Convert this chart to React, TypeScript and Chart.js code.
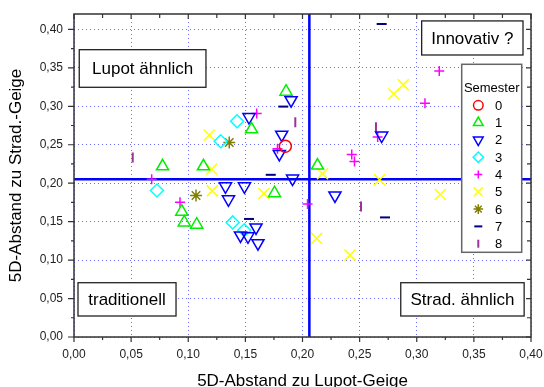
import React, { useEffect, useRef } from 'react';
import { Chart, registerables } from 'chart.js';
import { drawPoint } from 'chart.js/helpers';

Chart.register(...registerables);

// ---------- data ----------
const semesterLabels = ['0', '1', '2', '3', '4', '5', '6', '7', '8'];

const sem0: number[][] = [[0.185, 0.248]];
const sem1: number[][] = [
  [0.0775, 0.222], [0.1133, 0.222], [0.0943, 0.163], [0.0965, 0.149], [0.1074, 0.146],
  [0.1554, 0.270], [0.1856, 0.319], [0.1755, 0.187], [0.2131, 0.223],
];
const sem2: number[][] = [
  [0.1326, 0.196], [0.1352, 0.179], [0.1492, 0.196], [0.1532, 0.286], [0.190, 0.308],
  [0.1818, 0.263], [0.1797, 0.238], [0.1913, 0.206], [0.2284, 0.184], [0.2693, 0.262],
  [0.1457, 0.132], [0.1523, 0.131], [0.1593, 0.1425], [0.161, 0.122],
];
const sem3: number[][] = [
  [0.0726, 0.1905], [0.1284, 0.2545], [0.1427, 0.2805], [0.1389, 0.149], [0.149, 0.1388],
];
const sem4: number[][] = [
  [0.068, 0.205], [0.0928, 0.1753], [0.1599, 0.2905], [0.1781, 0.2447], [0.2431, 0.2373],
  [0.2455, 0.2282], [0.2658, 0.260], [0.3072, 0.304], [0.3197, 0.346], [0.2044, 0.173],
];
const sem5: number[][] = [
  [0.1184, 0.2626], [0.1205, 0.2184], [0.121, 0.190], [0.1663, 0.1866], [0.2175, 0.2122],
  [0.2674, 0.2044], [0.2799, 0.316], [0.2882, 0.328], [0.3206, 0.1853], [0.2124, 0.1282],
  [0.2416, 0.1065],
];
const sem6: number[][] = [[0.1068, 0.184], [0.1359, 0.253]];
const sem7: number[][] = [
  [0.2693, 0.407], [0.1832, 0.2996], [0.1722, 0.2109], [0.1532, 0.1535], [0.2722, 0.1555],
];
const sem8: number[][] = [
  [0.0514, 0.2334], [0.1937, 0.2792], [0.2643, 0.2727], [0.2512, 0.1697],
];

const seriesData = [sem0, sem1, sem2, sem3, sem4, sem5, sem6, sem7, sem8];

const xTicks = [0, 0.05, 0.1, 0.15, 0.2, 0.25, 0.3, 0.35, 0.4];
const yTicks = [0, 0.05, 0.1, 0.15, 0.2, 0.25, 0.3, 0.35, 0.4];
const refX = 0.206;
const refY = 0.205;

const xTitle = '5D-Abstand zu Lupot-Geige';
const yTitle = '5D-Abstand zu Strad.-Geige';
const legendTitle = 'Semester';
const quadrantLabels = ['Lupot ähnlich', 'Innovativ ?', 'traditionell', 'Strad. ähnlich'];

// ---------- styles ----------
const FONT = '"Liberation Sans", Arial, sans-serif';
const markerStyles = [
  { pointStyle: 'circle', color: '#ff0000', radius: 6, rotation: 0, width: 1.5 },
  { pointStyle: 'triangle', color: '#00ee00', radius: 7, rotation: 0, width: 1.5 },
  { pointStyle: 'triangle', color: '#0000ff', radius: 7, rotation: 180, width: 1.5 },
  { pointStyle: 'rectRot', color: '#00ffff', radius: 6.5, rotation: 0, width: 1.5 },
  { pointStyle: 'cross', color: '#ff00ff', radius: 5, rotation: 0, width: 1.5 },
  { pointStyle: 'crossRot', color: '#ffff00', radius: 7.8, rotation: 0, width: 1.5 },
  { pointStyle: 'star', color: '#808000', radius: 6, rotation: 0, width: 1.5 },
  { pointStyle: 'line', color: '#000080', radius: 5, rotation: 0, width: 2 },
  { pointStyle: 'line', color: '#993399', radius: 5, rotation: 90, width: 2 },
];

// quadrant boxes in data coordinates (x0, x1, yTop, yBottom)
const boxLayout = [
  [0.0046, 0.1155, 0.3736, 0.3247],
  [0.3043, 0.393, 0.411, 0.3667],
  [0.0035, 0.0893, 0.0706, 0.0273],
  [0.286, 0.394, 0.0706, 0.0273],
];

const fmt = (v: number) => Number(v).toFixed(2).replace('.', ',');

const decorPlugin = {
  id: 'decor',
  beforeDatasetsDraw(chart: any) {
    const { ctx, chartArea: a, scales } = chart;
    const px = scales.x.getPixelForValue(refX);
    const py = scales.y.getPixelForValue(refY);
    ctx.save();
    ctx.strokeStyle = '#0000ff';
    ctx.lineWidth = 2.5;
    ctx.beginPath();
    ctx.moveTo(px, a.top);
    ctx.lineTo(px, a.bottom);
    ctx.moveTo(a.left, py);
    ctx.lineTo(a.right, py);
    ctx.stroke();
    ctx.restore();
  },
  afterDatasetsDraw(chart: any) {
    const { ctx, chartArea: a, scales } = chart;
    const xs = scales.x;
    const ys = scales.y;
    ctx.save();

    // quadrant boxes
    ctx.font = `17px ${FONT}`;
    ctx.textAlign = 'center';
    ctx.textBaseline = 'middle';
    boxLayout.forEach((b, i) => {
      const x0 = xs.getPixelForValue(b[0]);
      const x1 = xs.getPixelForValue(b[1]);
      const y0 = ys.getPixelForValue(b[2]);
      const y1 = ys.getPixelForValue(b[3]);
      ctx.fillStyle = '#ffffff';
      ctx.fillRect(x0, y0, x1 - x0, y1 - y0);
      ctx.strokeStyle = '#222';
      ctx.lineWidth = 1.3;
      ctx.strokeRect(x0, y0, x1 - x0, y1 - y0);
      ctx.fillStyle = '#000';
      ctx.fillText(quadrantLabels[i], (x0 + x1) / 2, (y0 + y1) / 2 + 1);
    });

    // legend
    const lx = a.right - 69.3;
    const ly = a.top + 50.3;
    const lw = 60;
    const lh = 188;
    ctx.fillStyle = '#fff';
    ctx.fillRect(lx, ly, lw, lh);
    ctx.strokeStyle = '#666';
    ctx.lineWidth = 1.5;
    ctx.strokeRect(lx, ly, lw, lh);
    ctx.fillStyle = '#000';
    ctx.font = `13px ${FONT}`;
    ctx.textAlign = 'center';
    ctx.fillText(legendTitle, lx + lw / 2, ly + 24);
    ctx.textAlign = 'left';
    semesterLabels.forEach((lab, i) => {
      const m = markerStyles[i];
      const iy = ly + 41 + i * 17.3;
      ctx.strokeStyle = m.color;
      ctx.fillStyle = 'rgba(0,0,0,0)';
      ctx.lineWidth = m.width;
      drawPoint(ctx, { pointStyle: m.pointStyle, rotation: m.rotation, radius: m.radius * 0.8, borderWidth: m.width } as any, lx + 16.6, iy);
      ctx.fillStyle = '#000';
      ctx.fillText(lab, lx + 33.3, iy + 1);
    });

    // frame
    ctx.strokeStyle = '#333';
    ctx.lineWidth = 1.5;
    ctx.strokeRect(a.left, a.top, a.right - a.left, a.bottom - a.top);

    // tick marks
    ctx.lineWidth = 1.2;
    ctx.beginPath();
    const xAll: number[] = [];
    xTicks.forEach((v, i) => {
      xAll.push(v);
      if (i < xTicks.length - 1) xAll.push((v + xTicks[i + 1]) / 2);
    });
    xAll.forEach((v, i) => {
      const p = xs.getPixelForValue(v);
      const major = i % 2 === 0;
      ctx.moveTo(p, a.bottom);
      ctx.lineTo(p, a.bottom + (major ? 5 : 3));
      ctx.moveTo(p, a.top);
      ctx.lineTo(p, a.top + (major ? 5 : 4));
    });
    const yAll: number[] = [];
    yTicks.forEach((v, i) => {
      yAll.push(v);
      if (i < yTicks.length - 1) yAll.push((v + yTicks[i + 1]) / 2);
    });
    yAll.forEach((v, i) => {
      const p = ys.getPixelForValue(v);
      const major = i % 2 === 0;
      ctx.moveTo(a.left, p);
      ctx.lineTo(a.left - (major ? 6 : 3), p);
      ctx.moveTo(a.right, p);
      ctx.lineTo(a.right - (major ? 5 : 4), p);
    });
    ctx.stroke();

    // axis titles
    ctx.fillStyle = '#000';
    ctx.font = `17px ${FONT}`;
    ctx.textAlign = 'center';
    ctx.textBaseline = 'alphabetic';
    ctx.fillText(xTitle, (a.left + a.right) / 2, chart.height - 1);
    ctx.save();
    ctx.translate(21, (a.top + a.bottom) / 2);
    ctx.rotate(-Math.PI / 2);
    ctx.fillText(yTitle, 0, 0);
    ctx.restore();

    ctx.restore();
  },
};

export default function App() {
  const ref = useRef<HTMLCanvasElement | null>(null);
  useEffect(() => {
    if (!ref.current) return;
    const datasets = seriesData.map((arr, i) => {
      const m = markerStyles[i];
      return {
        label: semesterLabels[i],
        data: arr.map(([x, y]) => ({ x, y })),
        showLine: false,
        pointStyle: m.pointStyle,
        pointRadius: m.radius,
        pointHoverRadius: m.radius,
        pointRotation: m.rotation,
        pointBorderColor: m.color,
        pointBackgroundColor: 'rgba(0,0,0,0)',
        pointBorderWidth: m.width,
        borderColor: m.color,
        backgroundColor: 'rgba(0,0,0,0)',
      };
    });
    const chart = new Chart(ref.current, {
      type: 'scatter',
      data: { datasets } as any,
      plugins: [decorPlugin as any],
      options: {
        animation: false,
        responsive: false,
        devicePixelRatio: 1,
        layout: { padding: { top: 14, right: 13, left: 0, bottom: 0 } },
        plugins: { legend: { display: false }, tooltip: { enabled: false } },
        scales: {
          x: {
            type: 'linear',
            min: 0,
            max: 0.4,
            afterBuildTicks: (s: any) => { s.ticks = xTicks.map((v) => ({ value: v })); },
            afterFit: (s: any) => { s.height = 50; s.paddingLeft = 0; s.paddingRight = 0; },
            grid: { color: '#6b6bff', lineWidth: 1, drawTicks: false },
            border: { display: false, dash: [1, 3] },
            ticks: { padding: 10, color: '#222', font: { size: 12, family: FONT }, callback: (v: any) => fmt(v), maxRotation: 0 },
          },
          y: {
            type: 'linear',
            min: 0,
            max: 0.42,
            afterBuildTicks: (s: any) => { s.ticks = yTicks.map((v) => ({ value: v })); },
            afterFit: (s: any) => { s.width = 74; s.paddingTop = 0; s.paddingBottom = 0; },
            grid: { color: '#6b6bff', lineWidth: 1, drawTicks: false },
            border: { display: false, dash: [1, 3] },
            ticks: { padding: 11, color: '#222', font: { size: 12, family: FONT }, callback: (v: any) => fmt(v) },
          },
        },
      } as any,
    });
    return () => chart.destroy();
  }, []);
  return (
    <div style={{ position: 'absolute', left: 0, top: 0, width: 544, height: 387, background: '#fff' }}>
      <canvas ref={ref} width={544} height={387} style={{ display: 'block' }} />
    </div>
  );
}
